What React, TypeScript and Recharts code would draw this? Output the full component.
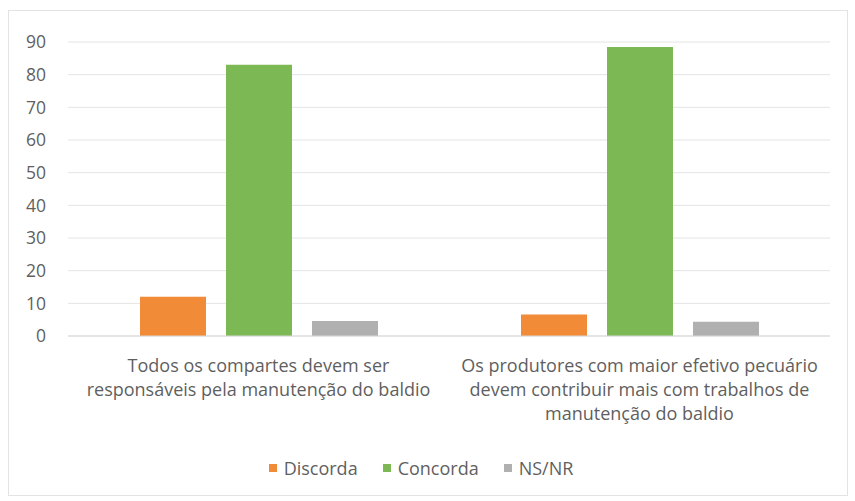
import { Bar, BarChart, CartesianGrid, Legend, XAxis, YAxis } from "recharts"

const categories = [
  "Todos os compartes devem ser responsáveis pela manutenção do baldio",
  "Os produtores com maior efetivo pecuário devem contribuir mais com trabalhos de manutenção do baldio",
]
const categoryLines = [
  ["Todos os compartes devem ser", "responsáveis pela manutenção do baldio"],
  ["Os produtores com maior efetivo pecuário", "devem contribuir mais com trabalhos de", "manutenção do baldio"],
]
const seriesNames = ["Discorda", "Concorda", "NS/NR"]
const seriesColors = ["#F28B38", "#7CB955", "#B0B0B0"]
const discorda = [12, 6.6]
const concorda = [83, 88.5]
const nsnr = [4.6, 4.4]
const yTicks = [0, 10, 20, 30, 40, 50, 60, 70, 80, 90]

const data = categories.map((name, i) => ({
  name,
  Discorda: discorda[i],
  Concorda: concorda[i],
  "NS/NR": nsnr[i],
}))

const FONT = "'Open Sans', sans-serif"
const TEXT = "#5f5f5f"

function CategoryTick({ x, y, index }: any) {
  const lines = categoryLines[index] ?? []
  return (
    <text x={x} y={y} textAnchor="middle" fill={TEXT} fontSize={18} fontFamily={FONT}>
      {lines.map((l, i) => (
        <tspan key={i} x={x} dy={i === 0 ? 28 : 24}>{l}</tspan>
      ))}
    </text>
  )
}

function LegendContent() {
  return (
    <div style={{ display: "flex", justifyContent: "center", gap: 25, fontFamily: FONT, fontSize: 18, color: TEXT, paddingTop: 2, paddingLeft: 12 }}>
      {seriesNames.map((n, i) => (
        <div key={n} style={{ display: "flex", alignItems: "center" }}>
          <span style={{ width: 8, height: 8, background: seriesColors[i], marginRight: 7, display: "inline-block" }} />
          {n}
        </div>
      ))}
    </div>
  )
}

export default function App() {
  return (
    <div style={{ position: "absolute", left: 0, top: 0, width: 855, height: 501, background: "#fff" }}>
      <div style={{ position: "absolute", left: 8, top: 10, width: 838, height: 484, border: "1px solid #e3e3e3" }} />
      <BarChart
        width={855}
        height={501}
        data={data}
        margin={{ top: 42, right: 25, left: 0, bottom: 5 }}
        barSize={66}
        barGap={20}
      >
        <CartesianGrid vertical={false} stroke="#e4e4e4" />
        <XAxis
          dataKey="name"
          axisLine={{ stroke: "#d9d9d9" }}
          tickLine={false}
          tick={<CategoryTick />}
          height={118}
          interval={0}
        />
        <YAxis
          domain={[0, 90]}
          ticks={yTicks}
          width={68}
          axisLine={false}
          tickLine={false}
          tickSize={0}
          tickMargin={22}
          tick={{ fill: TEXT, fontSize: 17.5, fontFamily: FONT }}
        />
        <Legend
          verticalAlign="bottom"
          wrapperStyle={{ height: 42 }}
          content={<LegendContent />}
        />
        {seriesNames.map((n, i) => (
          <Bar key={n} dataKey={n} fill={seriesColors[i]} isAnimationActive={false} />
        ))}
      </BarChart>
    </div>
  )
}
